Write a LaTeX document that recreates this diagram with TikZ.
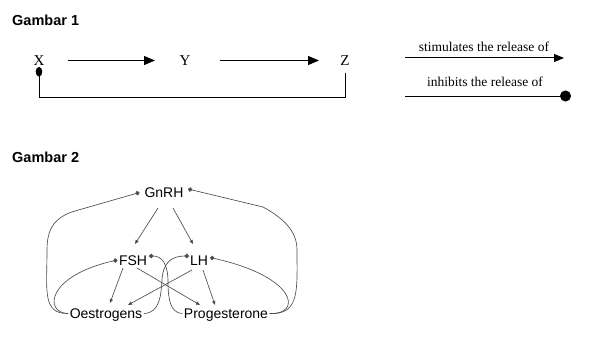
\documentclass[tikz,border=0pt]{standalone}
\usepackage{fontspec}
\setmainfont{Liberation Serif}
\setsansfont{Liberation Sans}
\usetikzlibrary{arrows.meta,positioning}

\begin{document}
\begin{tikzpicture}[
    x=1pt, y=-1pt,
    title/.style={font=\sffamily\bfseries\fontsize{14.5}{16}\selectfont, anchor=west, inner sep=0pt},
    letter/.style={font=\fontsize{15}{17}\selectfont, inner sep=0pt, text height=10pt, text depth=0pt},
    legendtext/.style={font=\fontsize{13.5}{15}\selectfont, inner sep=0pt},
    hormone/.style={font=\sffamily\fontsize{14}{16}\selectfont, inner xsep=1.5pt, inner ysep=0pt,
      text height=10pt, text depth=0pt},
    stim/.style={-{Triangle[length=11pt,width=9pt]}, line width=1pt},
    stimlegend/.style={-{Triangle[length=10pt,width=8pt]}, line width=1pt},
    inhib/.style={-{Circle[length=9.5pt,width=6.5pt]}, line width=1pt},
    inhiblegend/.style={-{Circle[length=11pt]}, line width=1pt},
    stimsmall/.style={-{Triangle[length=4pt,width=3.2pt]}, line width=0.65pt, black!70},
    inhibsmall/.style={-{Circle[length=4.4pt]}, line width=0.65pt, black!70}
  ]
    \useasboundingbox (0,0) rectangle (602,345);
    % Gambar 1
    \node[title] (g1) at (12,20) {Gambar 1};
    \node[letter] (X) at (39,60.5) {X};
    \node[letter] (Y) at (185,60.5) {Y};
    \node[letter] (Z) at (345,60.5) {Z};
    \draw[stim] ([xshift=29pt]X.center) -- ([xshift=-30pt]Y.center);
    \draw[stim] ([xshift=35pt]Y.center) -- ([xshift=-26pt]Z.center);
    \draw[inhib] ([yshift=-12pt]Z.center) -- ++(0,24.5) -| ([yshift=-6.5pt]X.center);
    % legend
    \node[legendtext] (stimtext) at (484,47) {stimulates the release of};
    \node[legendtext] (inhtext) at (485,82) {inhibits the release of};
    \coordinate (stim-a) at (405,58);
    \coordinate (stim-b) at (564,58);
    \coordinate (inh-a) at (405,96);
    \coordinate (inh-b) at (571,96);
    \draw[stimlegend] (stim-a) -- (stim-b);
    \draw[inhiblegend] (inh-a) -- (inh-b);
    % Gambar 2
    \node[title] (g2) at (12,157) {Gambar 2};
    \node[hormone] (gnrh) at (164,192.5) {GnRH};
    \node[hormone] (fsh) at (133,260) {FSH};
    \node[hormone] (lh) at (199,260) {LH};
    \node[hormone] (oes) at (106,313.5) {Oestrogens};
    \node[hormone] (prog) at (226,313.5) {Progesterone};
    \coordinate (gnrh-in) at (139.5,192.5);
    \coordinate (gnrh-out) at (188,189);
    \coordinate (fsh-in) at (117.5,260);
    \coordinate (fsh-out) at (149,256);
    \coordinate (lh-in) at (189,256);
    \coordinate (lh-out) at (210,257.5);
    \draw[stimsmall] ([shift={(-6,15.5)}]gnrh.center) -- ([shift={(2,-16)}]fsh.center);
    \draw[stimsmall] ([shift={(9,15.5)}]gnrh.center) -- ([shift={(-6,-16)}]lh.center);
    \draw[stimsmall] ([shift={(-10,8)}]fsh.center) -- ([shift={(4,-10.5)}]oes.center);
    \draw[stimsmall] ([shift={(4,8)}]fsh.center) -- ([shift={(-26,-8.5)}]prog.center);
    \draw[stimsmall] ([shift={(-7,10)}]lh.center) -- ([shift={(22,-8.5)}]oes.center);
    \draw[stimsmall] ([shift={(4,10)}]lh.center) -- ([shift={(-11,-8.5)}]prog.center);
    % feedback curves
    \draw[inhibsmall] (oes.west) .. controls (42,314) and (47,290) .. (47,250)
      .. controls (47,228) and (55,217) .. (75,211) -- (gnrh-in);
    \draw[inhibsmall] (oes.west) .. controls (44,313) and (46,276) .. (fsh-in);
    \draw[inhibsmall] (prog.east) .. controls (300,315) and (297,290) .. (297,250)
      .. controls (297,232) and (285,219) .. (263,207) -- (gnrh-out);
    \draw[inhibsmall] (prog.east) .. controls (302,315) and (298,277) .. (lh-out);
    \draw[inhibsmall] (oes.east) .. controls (160,313) and (161,295) .. (162,280)
      .. controls (163,262) and (172,256) .. (lh-in);
    \draw[inhibsmall] (prog.west) .. controls (170,313) and (168,298) .. (168,282)
      .. controls (168,264) and (162,256) .. (fsh-out);
  \end{tikzpicture}
\end{document}
